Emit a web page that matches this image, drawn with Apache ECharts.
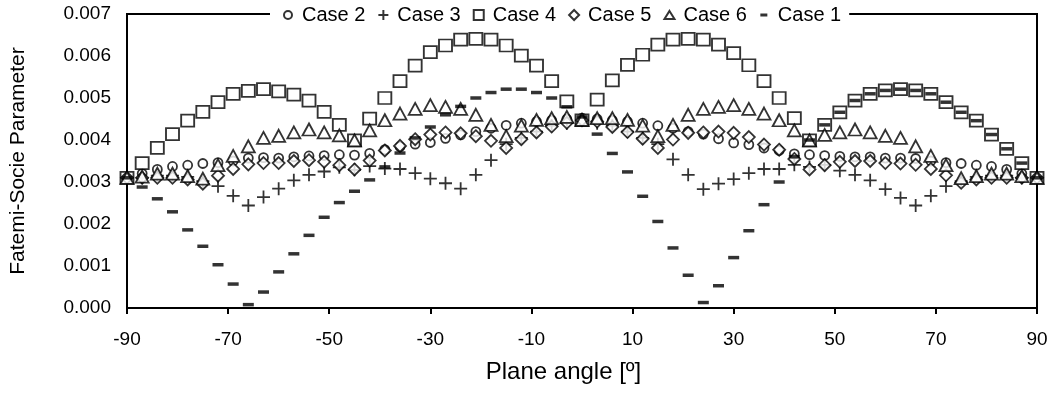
<!DOCTYPE html>
<html>
<head>
<meta charset="utf-8">
<script src="https://cdn.jsdelivr.net/npm/echarts@6/dist/echarts.min.js"></script>
<style>
html,body{margin:0;padding:0;background:#fff;}
#chart{width:1051px;height:394px;}
</style>
</head>
<body>
<div id="chart"></div>
<script>
const angles = [-90,-87,-84,-81,-78,-75,-72,-69,-66,-63,-60,-57,-54,-51,-48,-45,-42,-39,-36,-33,-30,-27,-24,-21,-18,-15,-12,-9,-6,-3,0,3,6,9,12,15,18,21,24,27,30,33,36,39,42,45,48,51,54,57,60,63,66,69,72,75,78,81,84,87,90];

const xTickLabels = ['-90','-70','-50','-30','-10','10','30','50','70','90'];
const yTickLabels = ['0.000','0.001','0.002','0.003','0.004','0.005','0.006','0.007'];

const case2 = [0.0031,0.0032,0.0033,0.00337,0.0034,0.00344,0.00346,0.0035,0.00357,0.00358,0.00357,0.0036,0.00362,0.00363,0.00365,0.00364,0.00368,0.00377,0.00384,0.0039,0.00394,0.00404,0.00412,0.0042,0.00428,0.00435,0.0044,0.00444,0.00447,0.0045,0.00452,
  0.0045,0.00447,0.00444,0.0044,0.00434,0.00428,0.0042,0.00414,0.00403,0.00393,0.00389,0.00381,0.00375,0.00367,0.00365,0.00363,0.00361,0.0036,0.0036,0.00357,0.00357,0.00356,0.0035,0.00346,0.00344,0.0034,0.00337,0.0033,0.0032,0.0031];

const case3 = [0.0031,0.0031,0.00315,0.00315,0.00312,0.00302,0.0029,0.00267,0.00244,0.00264,0.00284,0.00304,0.00317,0.00325,0.00335,0.00329,0.00338,0.00332,0.00331,0.00321,0.00308,0.00297,0.00284,0.00317,0.00352,0.0039,0.00405,0.0042,0.00434,0.0044,0.00447,
  0.0044,0.00434,0.0042,0.00405,0.0039,0.00354,0.00317,0.00283,0.00296,0.00307,0.00321,0.00331,0.00331,0.00341,0.00336,0.00341,0.00327,0.00317,0.00304,0.00283,0.00262,0.00244,0.00267,0.0029,0.00302,0.00312,0.00315,0.00315,0.0031,0.0031];

const case4 = [0.0031,0.00345,0.00381,0.00414,0.00446,0.00467,0.0049,0.0051,0.00517,0.00521,0.00516,0.00508,0.00494,0.00467,0.00436,0.00399,0.00451,0.005,0.0054,0.00577,0.00609,0.00625,0.00639,0.00641,0.00639,0.00625,0.00601,0.00577,0.0054,0.00492,0.00447,
  0.00496,0.00542,0.00579,0.00603,0.00627,0.00639,0.00641,0.00639,0.00627,0.00607,0.00578,0.0054,0.005,0.00452,0.00399,0.00436,0.00466,0.00494,0.0051,0.00518,0.00521,0.00518,0.0051,0.0049,0.00466,0.00446,0.00413,0.00379,0.00345,0.0031];

const case5 = [0.0031,0.0031,0.0031,0.0031,0.00306,0.00296,0.00315,0.00331,0.00342,0.00345,0.00345,0.0035,0.00352,0.00348,0.0034,0.0033,0.00351,0.00375,0.00386,0.00402,0.00413,0.00418,0.00416,0.00409,0.00398,0.00381,0.00402,0.00418,0.00432,0.00441,0.00447,
  0.00444,0.00431,0.00419,0.00403,0.00381,0.00401,0.00417,0.00418,0.0042,0.00417,0.00407,0.00389,0.00377,0.00355,0.0033,0.0034,0.00348,0.0035,0.0035,0.00345,0.00344,0.00341,0.00331,0.00316,0.00298,0.00306,0.0031,0.0031,0.0031,0.0031];

const case6 = [0.0031,0.00313,0.0032,0.0032,0.00314,0.00308,0.0034,0.00362,0.00385,0.00405,0.0041,0.00418,0.00425,0.00418,0.00411,0.00399,0.00423,0.00447,0.00463,0.00474,0.00483,0.00479,0.00474,0.0046,0.00436,0.00409,0.00434,0.00448,0.00452,0.00455,0.00448,
  0.00452,0.00452,0.00448,0.00434,0.00409,0.00436,0.0046,0.00474,0.00479,0.00483,0.00474,0.00463,0.00447,0.00423,0.00399,0.00412,0.00418,0.00425,0.00418,0.0041,0.00405,0.00385,0.00362,0.0034,0.00309,0.00314,0.0032,0.0032,0.00314,0.0031];

const case1 = [0.0031,0.00288,0.0026,0.00229,0.00186,0.00147,0.00103,0.00057,0.00008,0.00038,0.00086,0.00129,0.00173,0.00216,0.00251,0.00278,0.00305,0.00336,0.00369,0.00405,0.00431,0.0046,0.0048,0.005,0.00513,0.00521,0.00521,0.00513,0.005,0.00479,0.00455,
  0.00414,0.00368,0.00324,0.00266,0.00206,0.00143,0.00078,0.00013,0.00053,0.0012,0.00184,0.00246,0.003,0.0036,0.004,0.00436,0.00466,0.00494,0.0051,0.00518,0.00521,0.00518,0.0051,0.0049,0.00466,0.00446,0.00413,0.00379,0.00345,0.0031];

// x axis is drawn on a shifted scale (angle + 90) so ticks start at a multiple of the interval
const X_SHIFT = 90;
function pts(vals){ return angles.map((a,i)=>[a + X_SHIFT, vals[i]]); }

const chart = echarts.init(document.getElementById('chart'), null, {renderer:'canvas'});
const openStyle = {color:'#fff', borderColor:'#000', borderWidth:1.8};

chart.setOption({
  animation:false,
  backgroundColor:'#fff',
  grid:{left:126, right:14, top:14, bottom:86, show:true, borderColor:'#000', borderWidth:2, backgroundColor:'transparent'},
  legend:{
    left:270, top:3, padding:[2,8,2,8], backgroundColor:'#fff',
    itemWidth:18, itemHeight:10, itemGap:8,
    textStyle:{fontFamily:'Liberation Sans', fontSize:20, color:'#000'},
    data:[
      {name:'Case 2', icon:'path://M0,0M18,10M13,5A4,4,0,1,1,5,5A4,4,0,1,1,13,5Z'},
      {name:'Case 3', icon:'path://M0,0M18,10M9,0V10M4,5H14'},
      {name:'Case 4', icon:'path://M0,0M18,10M4,0H14V10H4Z'},
      {name:'Case 5', icon:'path://M0,0M18,10M9,0L14,5L9,10L4,5Z'},
      {name:'Case 6', icon:'path://M0,0M18,10M9,1L14,9H4Z'},
      {name:'Case 1', icon:'path://M0,0M18,10M5.5,3.5H12.5V6.5H5.5Z'}
    ]
  },
  xAxis:{
    type:'value', min:0, max:180, interval:20,
    axisLine:{lineStyle:{color:'#000', width:2}},
    axisTick:{length:6, lineStyle:{color:'#000', width:2}},
    axisLabel:{formatter:(v)=>xTickLabels[Math.round(v/20)], margin:22, color:'#000', fontFamily:'Liberation Sans', fontSize:19},
    splitLine:{show:false},
    name:'Plane angle [º]', nameLocation:'middle', nameGap:52,
    nameTextStyle:{fontFamily:'Liberation Sans', fontSize:24, color:'#000', padding:[0,37,0,0]}
  },
  yAxis:{
    type:'value', min:0, max:0.007, interval:0.001,
    axisLine:{show:true, lineStyle:{color:'#000', width:2}},
    axisTick:{show:false},
    axisLabel:{formatter:(v)=>yTickLabels[Math.round(v*1000)], margin:16, color:'#000', fontFamily:'Liberation Sans', fontSize:19},
    splitLine:{show:false},
    name:'Fatemi-Socie Parameter', nameLocation:'middle', nameGap:98,
    nameTextStyle:{fontFamily:'Liberation Sans', fontSize:21, color:'#000'}
  },
  series:[
    {name:'Case 2', type:'scatter', symbol:'circle', symbolSize:9, itemStyle:openStyle, data:pts(case2)},
    {name:'Case 3', type:'scatter', symbol:'path://M5,0V10M0,5H10', symbolSize:13, itemStyle:{color:'rgba(0,0,0,0)', borderColor:'#000', borderWidth:1.8}, data:pts(case3)},
    {name:'Case 4', type:'scatter', symbol:'rect', symbolSize:[13,12], itemStyle:openStyle, data:pts(case4)},
    {name:'Case 5', type:'scatter', symbol:'diamond', symbolSize:12, itemStyle:openStyle, data:pts(case5)},
    {name:'Case 6', type:'scatter', symbol:'triangle', symbolSize:[13,12], itemStyle:openStyle, data:pts(case6)},
    {name:'Case 1', type:'scatter', symbol:'rect', symbolSize:[11,3.5], itemStyle:{color:'#000'}, data:pts(case1)}
  ]
});
</script>
</body>
</html>
